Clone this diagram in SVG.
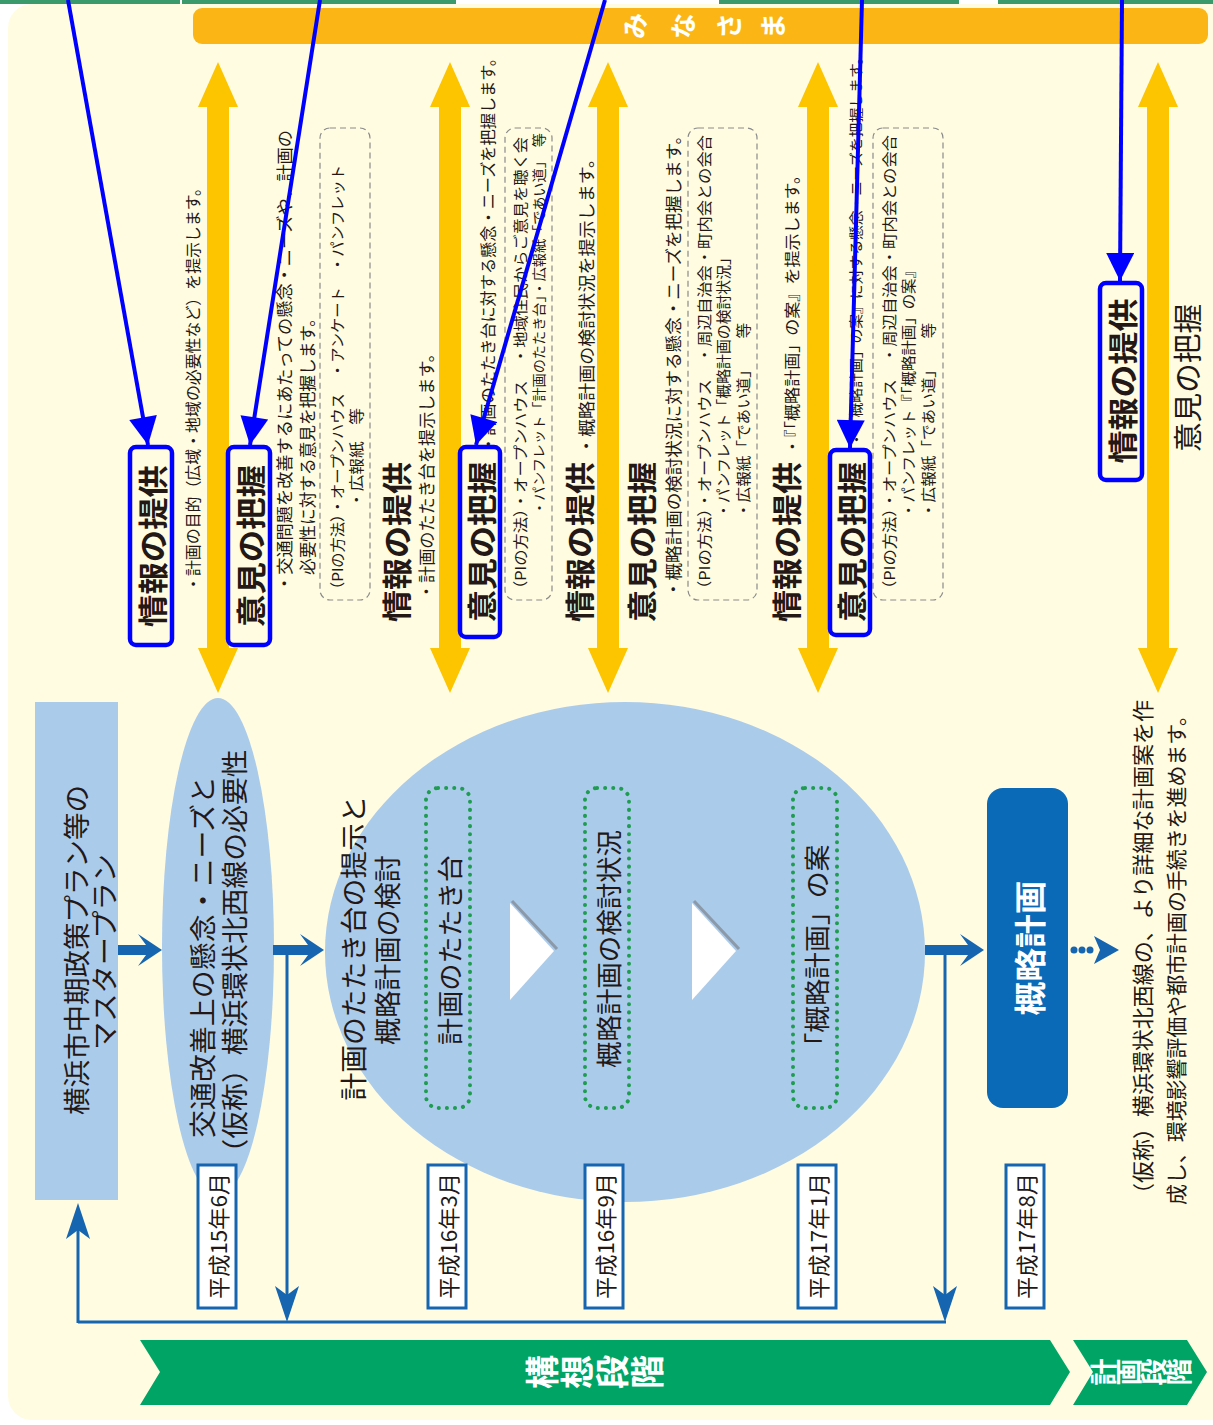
<svg xmlns="http://www.w3.org/2000/svg" width="1213" height="1425" viewBox="0 0 1213 1425">
<style>
.j{font-family:"Noto Sans CJK JP","Noto Sans CJK SC",sans-serif;dominant-baseline:central;fill:#231815}
.b{font-weight:700}
.w{fill:#ffffff}
.ya{fill:#fdc400}
.ab{fill:none;stroke:#0000ff;stroke-width:4;}
.box{fill:none;stroke:#0000ff;stroke-width:4.5}
.dash{fill:none;stroke:#8a8a8a;stroke-width:1.2;stroke-dasharray:6 4}
.dot{fill:none;stroke:#1e9c50;stroke-width:4;stroke-dasharray:0.1 8;stroke-linecap:round}
.fb{fill:none;stroke:#1565b0;stroke-width:3}
.date{fill:#ffffff;stroke:#1565b0;stroke-width:3}
.lb{fill:#abcbeb}
.db{fill:#1565b0}
</style>
<defs>
<marker id="ah" viewBox="0 0 10 10" refX="10" refY="5" markerUnits="userSpaceOnUse" markerWidth="30" markerHeight="28" orient="auto">
<path d="M0,0 L10,5 L0,10 Z" fill="#0000ff"/>
</marker>
</defs>
<rect x="0" y="0" width="1213" height="1425" fill="#ffffff"/>
<rect x="8" y="4" width="1240" height="1416" rx="24" fill="#fffce2"/>
<g id="top-strips" fill="#3b9a6b">
<rect x="0" y="0" width="180" height="4"/>
<rect x="182" y="0" width="274" height="4"/>
<rect x="719" y="0" width="240" height="4"/>
<rect x="998" y="0" width="215" height="4"/>
</g>
<g id="minasama">
<rect x="193" y="8" width="1015" height="36" rx="9" fill="#fbb615"/>
<text class="j b w" font-size="26" text-anchor="middle" transform="translate(633,26) rotate(-90)">み</text>
<text class="j b w" font-size="26" text-anchor="middle" transform="translate(681,26) rotate(-90)">な</text>
<text class="j b w" font-size="26" text-anchor="middle" transform="translate(727,26) rotate(-90)">さ</text>
<text class="j b w" font-size="26" text-anchor="middle" transform="translate(771,26) rotate(-90)">ま</text>
</g>
<g id="yellow-arrows" class="ya">
<path d="M218,62 L238,107 L229,107 L229,648 L238,648 L218,693 L198,648 L207,648 L207,107 L198,107 Z"/>
<path d="M450,62 L470,107 L461,107 L461,648 L470,648 L450,693 L430,648 L439,648 L439,107 L430,107 Z"/>
<path d="M608,62 L628,107 L619,107 L619,648 L628,648 L608,693 L588,648 L597,648 L597,107 L588,107 Z"/>
<path d="M818,62 L838,107 L829,107 L829,648 L838,648 L818,693 L798,648 L807,648 L807,107 L798,107 Z"/>
<path d="M1158,62 L1178,107 L1169,107 L1169,648 L1178,648 L1158,693 L1138,648 L1147,648 L1147,107 L1138,107 Z"/>
</g>
<g id="col1">
<text class="j b" font-size="30" text-anchor="middle" textLength="162" lengthAdjust="spacingAndGlyphs" transform="translate(151,546) rotate(-90)">情報の提供</text>
<text class="j" font-size="16" textLength="412" lengthAdjust="spacingAndGlyphs" transform="translate(192,592) rotate(-90)">・計画の目的（広域・地域の必要性など）を提示します。</text>
</g>
<g id="col2">
<text class="j b" font-size="30" text-anchor="middle" textLength="162" lengthAdjust="spacingAndGlyphs" transform="translate(249,546) rotate(-90)">意見の把握</text>
<text class="j" font-size="17" textLength="462" lengthAdjust="spacingAndGlyphs" transform="translate(283,592) rotate(-90)">・交通問題を改善するにあたっての懸念・ニーズや、計画の</text>
<text class="j" font-size="17" textLength="265" lengthAdjust="spacingAndGlyphs" transform="translate(306,575) rotate(-90)">必要性に対する意見を把握します。</text>
<rect class="dash" x="320" y="128" width="50" height="472" rx="10"/>
<text class="j" font-size="15" textLength="432" lengthAdjust="spacingAndGlyphs" transform="translate(336,597) rotate(-90)">（PIの方法）・オープンハウス　・アンケート　・パンフレット</text>
<text class="j" font-size="15" textLength="100" lengthAdjust="spacingAndGlyphs" transform="translate(355,508) rotate(-90)">・広報紙　等</text>
</g>
<g id="col3">
<text class="j b" font-size="30" text-anchor="middle" textLength="160" lengthAdjust="spacingAndGlyphs" transform="translate(395,542) rotate(-90)">情報の提供</text>
<text class="j" font-size="17" textLength="255" lengthAdjust="spacingAndGlyphs" transform="translate(425,600) rotate(-90)">・計画のたたき台を提示します。</text>
</g>
<g id="col4">
<text class="j b" font-size="30" text-anchor="middle" textLength="160" lengthAdjust="spacingAndGlyphs" transform="translate(480,542) rotate(-90)">意見の把握</text>
<text class="j" font-size="16" textLength="402" lengthAdjust="spacingAndGlyphs" transform="translate(487,452) rotate(-90)">・計画のたたき台に対する懸念・ニーズを把握します。</text>
<rect class="dash" x="505" y="128" width="47" height="472" rx="10"/>
<text class="j" font-size="15" textLength="460" lengthAdjust="spacingAndGlyphs" transform="translate(519,597) rotate(-90)">（PIの方法）・オープンハウス　・地域住民からご意見を聴く会</text>
<text class="j" font-size="13.5" textLength="382" lengthAdjust="spacingAndGlyphs" transform="translate(538,515) rotate(-90)">・パンフレット「計画のたたき台」・広報紙「であい道」　等</text>
</g>
<g id="col5">
<text class="j b" font-size="30" text-anchor="middle" textLength="160" lengthAdjust="spacingAndGlyphs" transform="translate(578,542) rotate(-90)">情報の提供</text>
<text class="j" font-size="17" textLength="305" lengthAdjust="spacingAndGlyphs" transform="translate(585,455) rotate(-90)">・概略計画の検討状況を提示します。</text>
</g>
<g id="col6">
<text class="j b" font-size="30" text-anchor="middle" textLength="160" lengthAdjust="spacingAndGlyphs" transform="translate(640,542) rotate(-90)">意見の把握</text>
<text class="j" font-size="17" textLength="471" lengthAdjust="spacingAndGlyphs" transform="translate(672,598) rotate(-90)">・概略計画の検討状況に対する懸念・ニーズを把握します。</text>
<rect class="dash" x="688" y="128" width="69" height="472" rx="10"/>
<text class="j" font-size="15" textLength="462" lengthAdjust="spacingAndGlyphs" transform="translate(703,597) rotate(-90)">（PIの方法）・オープンハウス　・周辺自治会・町内会との会合</text>
<text class="j" font-size="15" textLength="268" lengthAdjust="spacingAndGlyphs" transform="translate(722,518) rotate(-90)">・パンフレット「概略計画の検討状況」</text>
<text class="j" font-size="15" textLength="195" lengthAdjust="spacingAndGlyphs" transform="translate(742,518) rotate(-90)">・広報紙「であい道」　　等</text>
</g>
<g id="col7">
<text class="j b" font-size="30" text-anchor="middle" textLength="160" lengthAdjust="spacingAndGlyphs" transform="translate(785,542) rotate(-90)">情報の提供</text>
<text class="j" font-size="16" textLength="288" lengthAdjust="spacingAndGlyphs" transform="translate(791,455) rotate(-90)">・『「概略計画」の案』を提示します。</text>
</g>
<g id="col8">
<text class="j b" font-size="30" text-anchor="middle" textLength="160" lengthAdjust="spacingAndGlyphs" transform="translate(850,542) rotate(-90)">意見の把握</text>
<text class="j" font-size="14" textLength="397" lengthAdjust="spacingAndGlyphs" transform="translate(855,447) rotate(-90)">・『「概略計画」の案』に対する懸念・ニーズを把握します。</text>
<rect class="dash" x="873" y="128" width="70" height="472" rx="10"/>
<text class="j" font-size="15" textLength="462" lengthAdjust="spacingAndGlyphs" transform="translate(888,597) rotate(-90)">（PIの方法）・オープンハウス　・周辺自治会・町内会との会合</text>
<text class="j" font-size="15" textLength="255" lengthAdjust="spacingAndGlyphs" transform="translate(907,518) rotate(-90)">・パンフレット『「概略計画」の案』</text>
<text class="j" font-size="15" textLength="195" lengthAdjust="spacingAndGlyphs" transform="translate(927,518) rotate(-90)">・広報紙「であい道」　　等</text>
</g>
<g id="col9">
<text class="j b" font-size="30" text-anchor="middle" textLength="165" lengthAdjust="spacingAndGlyphs" transform="translate(1121,381) rotate(-90)">情報の提供</text>
<text class="j" font-size="29" text-anchor="middle" textLength="148" lengthAdjust="spacingAndGlyphs" transform="translate(1186,378) rotate(-90)">意見の把握</text>
</g>
<g id="master-plan">
<rect class="lb" x="35" y="702" width="83" height="498"/>
<text class="j" font-size="27" text-anchor="middle" textLength="330" lengthAdjust="spacingAndGlyphs" transform="translate(75,950) rotate(-90)">横浜市中期政策プラン等の</text>
<text class="j" font-size="27" text-anchor="middle" textLength="196" lengthAdjust="spacingAndGlyphs" transform="translate(103,952) rotate(-90)">マスタープラン</text>
</g>
<g id="needs">
<ellipse class="lb" cx="218" cy="947" rx="56" ry="249"/>
<text class="j" font-size="27" text-anchor="middle" textLength="362" lengthAdjust="spacingAndGlyphs" transform="translate(201,957) rotate(-90)">交通改善上の懸念・ニーズと</text>
<text class="j" font-size="27" text-anchor="middle" textLength="417" lengthAdjust="spacingAndGlyphs" transform="translate(233,958) rotate(-90)">（仮称）横浜環状北西線の必要性</text>
</g>
<g id="study">
<ellipse class="lb" cx="625" cy="952" rx="300" ry="250"/>
<text class="j" font-size="27" text-anchor="middle" textLength="305" lengthAdjust="spacingAndGlyphs" transform="translate(352,948) rotate(-90)">計画のたたき台の提示と</text>
<text class="j" font-size="27" text-anchor="middle" textLength="190" lengthAdjust="spacingAndGlyphs" transform="translate(386,950) rotate(-90)">概略計画の検討</text>
</g>
<g id="step1">
<rect class="dot" x="426" y="788" width="44" height="320" rx="12"/>
<text class="j" font-size="26" text-anchor="middle" textLength="190" lengthAdjust="spacingAndGlyphs" transform="translate(448,950) rotate(-90)">計画のたたき台</text>
</g>
<g id="step2">
<rect class="dot" x="585" y="788" width="44" height="320" rx="12"/>
<text class="j" font-size="26" text-anchor="middle" textLength="238" lengthAdjust="spacingAndGlyphs" transform="translate(607,949) rotate(-90)">概略計画の検討状況</text>
</g>
<g id="step3">
<rect class="dot" x="793" y="788" width="44" height="320" rx="12"/>
<text class="j" font-size="26" text-anchor="middle" textLength="215" lengthAdjust="spacingAndGlyphs" transform="translate(815,952) rotate(-90)">「概略計画」の案</text>
</g>
<g id="triangles">
<polyline points="512,901 557,949" fill="none" stroke="#8c99a8" stroke-width="3"/>
<polygon points="510,903 554,951 510,1000" fill="#ffffff"/>
<polyline points="694,901 739,949" fill="none" stroke="#8c99a8" stroke-width="3"/>
<polygon points="692,903 736,951 692,1000" fill="#ffffff"/>
</g>
<g id="gaiyaku">
<rect x="987" y="788" width="81" height="320" rx="16" fill="#0a6ab8"/>
<text class="j b w" font-size="32" text-anchor="middle" textLength="135" lengthAdjust="spacingAndGlyphs" transform="translate(1028,948) rotate(-90)">概略計画</text>
</g>
<g id="next">
<text class="j" font-size="22" textLength="505" lengthAdjust="spacingAndGlyphs" transform="translate(1141,1205) rotate(-90)">（仮称）横浜環状北西線の、より詳細な計画案を作</text>
<text class="j" font-size="21" textLength="500" lengthAdjust="spacingAndGlyphs" transform="translate(1175,1205) rotate(-90)">成し、環境影響評価や都市計画の手続きを進めます。</text>
</g>
<g id="connectors">
<path class="db" d="M118,945 H146 L138,934 L162,950 L138,966 L146,955 H118 Z"/>
<path class="db" d="M273,945 H308 L300,934 L324,950 L300,966 L308,955 H273 Z"/>
<path class="db" d="M925,945 H968 L960,934 L984,950 L960,966 L968,955 H925 Z"/>
<g class="db">
<circle cx="1074" cy="950" r="3.5"/><circle cx="1082" cy="950" r="3.5"/><circle cx="1090" cy="950" r="3.5"/>
<path d="M1094,936 L1119,950 L1094,964 L1100,950 Z"/>
</g>
<path class="fb" d="M287,950 V1300"/>
<path class="fb" d="M945,950 V1300"/>
<path class="fb" d="M78,1322 H946"/>
<path class="fb" d="M78,1323 V1225"/>
<path class="db" d="M287,1322 L275,1286 L287,1295 L299,1286 Z"/>
<path class="db" d="M945,1322 L933,1286 L945,1295 L957,1286 Z"/>
<path class="db" d="M78,1203 L66,1239 L78,1230 L90,1239 Z"/>
</g>
<g id="dates">
<rect class="date" x="198" y="1165" width="38" height="143"/>
<text class="j" font-size="22" text-anchor="middle" textLength="126" lengthAdjust="spacingAndGlyphs" transform="translate(217,1236) rotate(-90)">平成15年6月</text>
<rect class="date" x="428" y="1165" width="38" height="143"/>
<text class="j" font-size="22" text-anchor="middle" textLength="126" lengthAdjust="spacingAndGlyphs" transform="translate(447,1236) rotate(-90)">平成16年3月</text>
<rect class="date" x="585" y="1165" width="38" height="143"/>
<text class="j" font-size="22" text-anchor="middle" textLength="126" lengthAdjust="spacingAndGlyphs" transform="translate(604,1236) rotate(-90)">平成16年9月</text>
<rect class="date" x="798" y="1165" width="38" height="143"/>
<text class="j" font-size="22" text-anchor="middle" textLength="126" lengthAdjust="spacingAndGlyphs" transform="translate(817,1236) rotate(-90)">平成17年1月</text>
<rect class="date" x="1006" y="1165" width="38" height="143"/>
<text class="j" font-size="22" text-anchor="middle" textLength="126" lengthAdjust="spacingAndGlyphs" transform="translate(1025,1236) rotate(-90)">平成17年8月</text>
</g>
<g id="phase1">
<polygon points="140,1340 1050,1340 1070,1372 1050,1405 140,1405 160,1372" fill="#00a566"/>
<text class="j b w" font-size="34" text-anchor="middle" transform="translate(540,1372) rotate(-90)">構</text>
<text class="j b w" font-size="34" text-anchor="middle" transform="translate(575,1372) rotate(-90)">想</text>
<text class="j b w" font-size="34" text-anchor="middle" transform="translate(610,1372) rotate(-90)">段</text>
<text class="j b w" font-size="34" text-anchor="middle" transform="translate(645,1372) rotate(-90)">階</text>
</g>
<g id="phase2">
<polygon points="1073,1340 1187,1340 1207,1372 1187,1405 1073,1405 1093,1372" fill="#00a566"/>
<text class="j b w" font-size="27" text-anchor="middle" transform="translate(1102,1372) rotate(-90)">計</text>
<text class="j b w" font-size="27" text-anchor="middle" transform="translate(1127,1372) rotate(-90)">画</text>
<text class="j b w" font-size="27" text-anchor="middle" transform="translate(1152,1372) rotate(-90)">段</text>
<text class="j b w" font-size="27" text-anchor="middle" transform="translate(1177,1372) rotate(-90)">階</text>
</g>
<g id="highlight-boxes">
<rect class="box" x="130" y="447" width="42" height="198" rx="6"/>
<rect class="box" x="228" y="447" width="42" height="198" rx="6"/>
<rect class="box" x="460" y="447" width="40" height="190" rx="6"/>
<rect class="box" x="830" y="450" width="40" height="185" rx="6"/>
<rect class="box" x="1100" y="283" width="42" height="197" rx="6"/>
</g>
<g id="annotation-arrows">
<path class="ab" d="M68,0 L148,445" marker-end="url(#ah)"/>
<path class="ab" d="M320,0 L250,445" marker-end="url(#ah)"/>
<path class="ab" d="M605,0 L476,445" marker-end="url(#ah)"/>
<path class="ab" d="M862,0 L850,448" marker-end="url(#ah)"/>
<path class="ab" d="M1122,0 L1120,281" marker-end="url(#ah)"/>
</g>
</svg>
